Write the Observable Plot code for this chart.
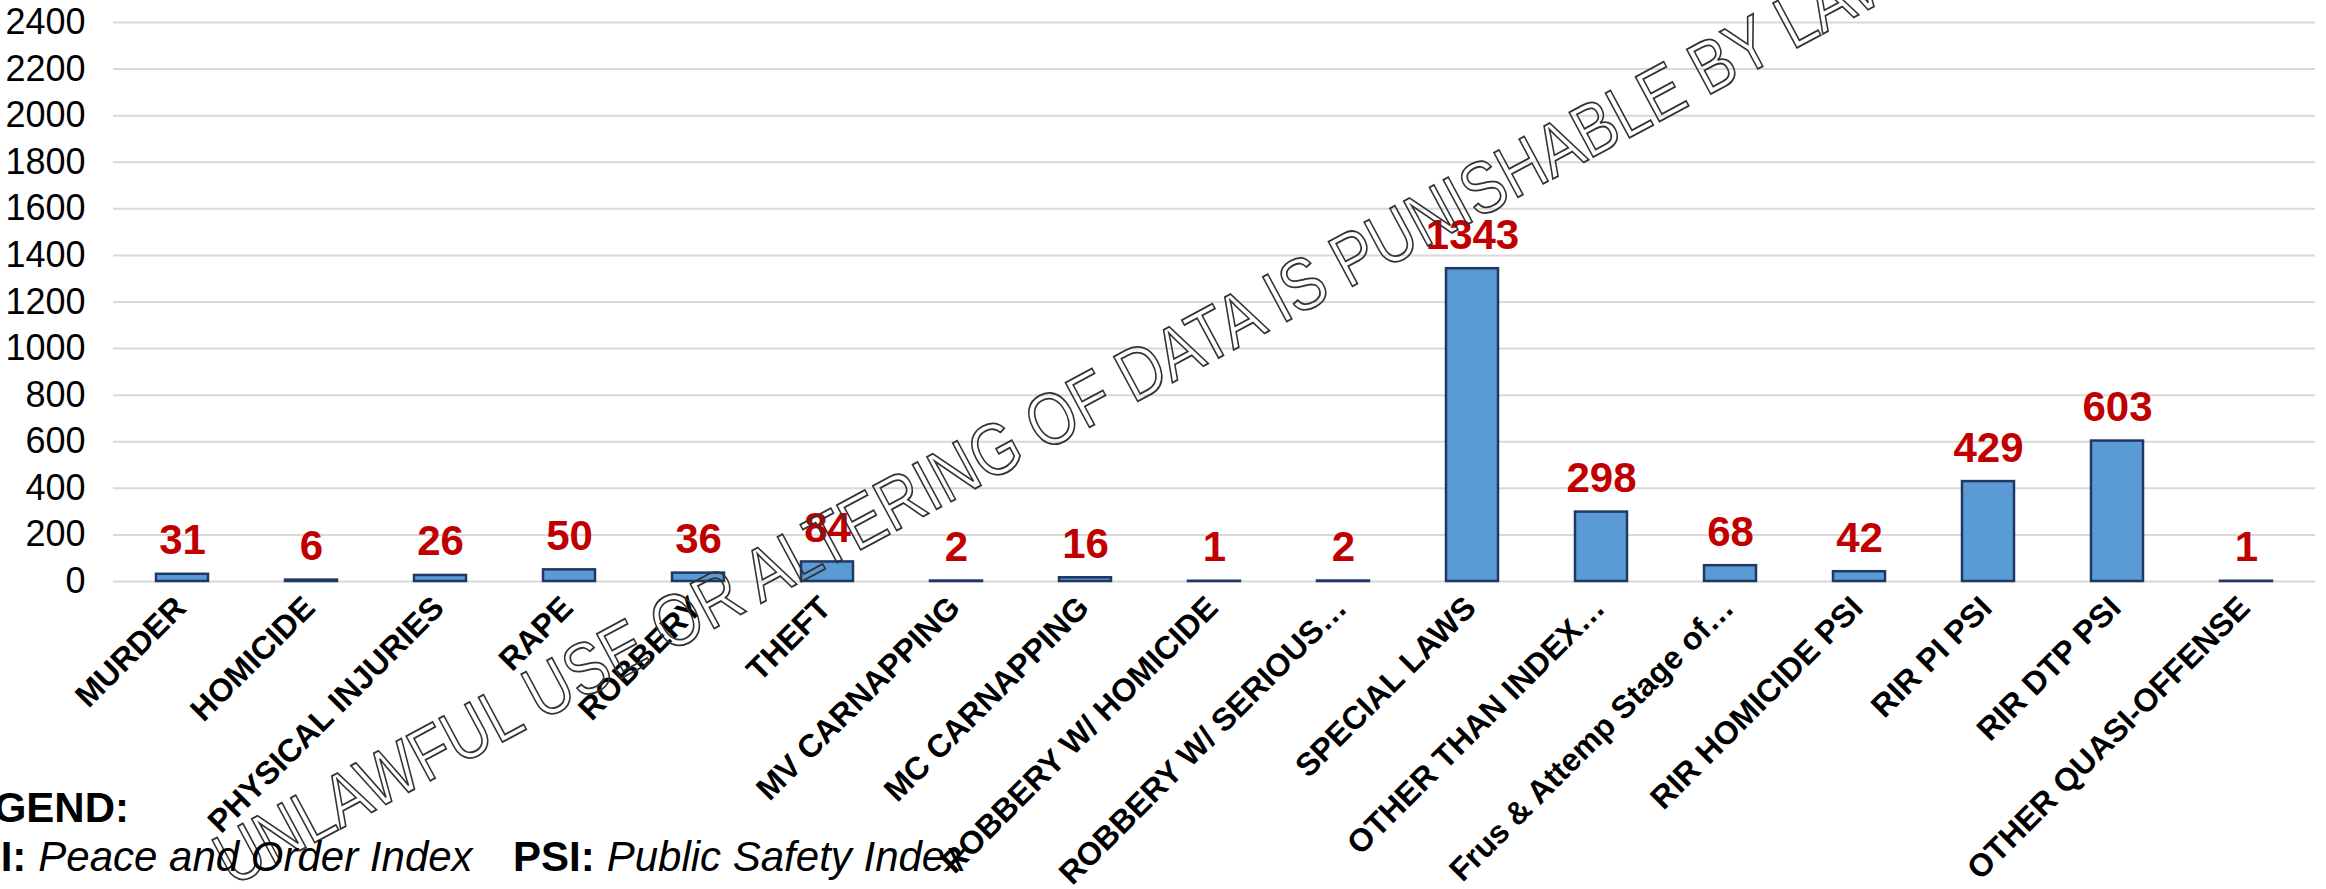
<!DOCTYPE html>
<html><head><meta charset="utf-8">
<script src="https://cdn.jsdelivr.net/npm/d3@7"></script>
<script src="https://cdn.jsdelivr.net/npm/@observablehq/plot@0.6"></script>
<style>
html,body{margin:0;padding:0;background:#fff;}
#wrap{position:relative;width:2326px;height:889px;overflow:hidden;background:#fff;}
#chart{position:absolute;left:0;top:0;}
#overlay{position:absolute;left:0;top:0;pointer-events:none;font-family:'Liberation Sans',Arial,sans-serif;}
</style></head><body>
<div id="wrap"><div id="chart"></div>
<svg id="overlay" width="2326" height="889" xmlns="http://www.w3.org/2000/svg">
  <text x="0" y="0" transform="translate(232 887) rotate(-28.2) scale(1 1.2)" font-size="61.5" fill="none" stroke="#333" stroke-width="1.7" vector-effect="non-scaling-stroke">UNLAWFUL USE OR ALTERING OF DATA IS PUNISHABLE BY LAW</text>
  <text x="-60" y="822" font-size="42" font-weight="bold" fill="#000">LEGEND:</text>
  <text y="871" font-size="42" fill="#000"><tspan x="-60" font-weight="bold">POI:</tspan><tspan dx="12" font-style="italic">Peace and Order Index</tspan><tspan x="513" font-weight="bold">PSI:</tspan><tspan dx="12" font-style="italic">Public Safety Index</tspan></text>
</svg>
</div>
<script>
const categories = ["MURDER","HOMICIDE","PHYSICAL INJURIES","RAPE","ROBBERY","THEFT","MV CARNAPPING","MC CARNAPPING","ROBBERY W/ HOMICIDE","ROBBERY W/ SERIOUS…","SPECIAL LAWS","OTHER THAN INDEX…","Frus & Attemp Stage of…","RIR HOMICIDE PSI","RIR PI PSI","RIR DTP PSI","OTHER QUASI-OFFENSE"];
const values = [31,6,26,50,36,84,2,16,1,2,1343,298,68,42,429,603,1];
const yTicks = [0,200,400,600,800,1000,1200,1400,1600,1800,2000,2200,2400];
const data = categories.map((c,i)=>({category:c, value:values[i]}));

const chart = Plot.plot({
  width: 2326, height: 889,
  marginLeft: 113, marginRight: 11, marginTop: 22, marginBottom: 308,
  style: {fontFamily: "'Liberation Sans', Arial, sans-serif", fontSize: "36px", background: "transparent", overflow: "visible"},
  x: {domain: categories, paddingInner: 0.6, paddingOuter: 0.3, axis: null},
  y: {domain: [0, 2400], axis: null},
  marks: [
    Plot.ruleY(yTicks, {stroke: "#d9d9d9", strokeWidth: 2}),
    Plot.barY(data, {x: "category", y: "value", fill: "#5B9BD5", stroke: "#1F3864", strokeWidth: 2.5}),
    Plot.axisY({ticks: yTicks, tickFormat: d => String(d), tickSize: 0, tickPadding: 28, fontSize: 36, fill: "#000", label: null}),
    Plot.text(data, {x: "category", y: "value", text: d => String(d.value), dy: -20, lineAnchor: "bottom", fill: "#C00000", fontSize: 42, fontWeight: "bold"}),
    Plot.text(categories, {x: d => d, frameAnchor: "bottom", rotate: -45, textAnchor: "end", lineAnchor: "middle", dx: -2, dy: 21, fontSize: 32, fontWeight: "bold", fill: "#000"})
  ]
});
document.getElementById("chart").appendChild(chart);
</script>
</body></html>
